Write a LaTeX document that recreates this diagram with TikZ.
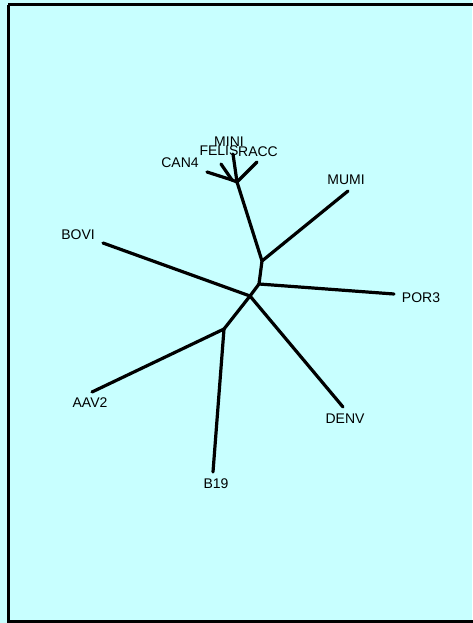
\documentclass[tikz,border=0pt]{standalone}
\usepackage{fontspec}
\setmainfont{Liberation Sans}
\definecolor{paper}{RGB}{200,255,255}
\tikzset{
  branch/.style={line width=3.2pt, line cap=round, line join=round},
  taxon/.style={font=\fontsize{14}{14}\selectfont, inner sep=0pt, text=black},
  frame/.style={line width=3pt}
}
\begin{document}
\begin{tikzpicture}[x=1pt,y=-1pt]
  % canvas and border
  \fill[paper] (0,0) rectangle (472,623);
  \useasboundingbox (0,0) rectangle (472,623);
  \draw[frame] (8,5) -- (476,5) (8,5) -- (8,621) -- (476,621);

  % internal nodes of the unrooted tree
  \coordinate (n1) at (250,296);
  \coordinate (n2) at (259,284);
  \coordinate (n3) at (224,329);
  \coordinate (n4) at (262,261);
  \coordinate (n5) at (237,182);
  \coordinate (n6) at (232,180);

  % branch tips
  \coordinate (tBOVI) at (103,243);
  \coordinate (tAAV2) at (92,392);
  \coordinate (tB19) at (213,472);
  \coordinate (tDENV) at (343,407);
  \coordinate (tPOR3) at (394,294);
  \coordinate (tMUMI) at (348,191);
  \coordinate (tCAN4) at (207,172);
  \coordinate (tFELIS) at (221,164);
  \coordinate (tMINI) at (233,154);
  \coordinate (tRACC) at (257,162);

  % branches
  \draw[branch] (tBOVI) -- (n1);
  \draw[branch] (n1) -- (tDENV);
  \draw[branch] (n1) -- (n3);
  \draw[branch] (tAAV2) -- (n3);
  \draw[branch] (n3) -- (tB19);
  \draw[branch] (n1) -- (n2);
  \draw[branch] (n2) -- (tPOR3);
  \draw[branch] (n2) -- (n4);
  \draw[branch] (n4) -- (tMUMI);
  \draw[branch] (n4) -- (n5);
  \draw[branch] (n5) -- (n6);
  \draw[branch] (n6) -- (tCAN4);
  \draw[branch] (n6) -- (tFELIS);
  \draw[branch] (n5) -- (tMINI);
  \draw[branch] (n5) -- (tRACC);

  % taxon labels
  \node[taxon] (lBOVI) at (78,235) {BOVI};
  \node[taxon] (lAAV2) at (90,403) {AAV2};
  \node[taxon] (lB19) at (216,484) {B19};
  \node[taxon] (lDENV) at (345,419) {DENV};
  \node[taxon] (lPOR3) at (421,298) {POR3};
  \node[taxon] (lMUMI) at (346,180) {MUMI};
  \node[taxon] (lCAN4) at (180,163) {CAN4};
  \node[taxon] (lMINI) at (229,142) {MINI};
  \node[taxon] (lFELIS) at (219,151) {FELIS};
  \node[taxon] (lRACC) at (258,152) {RACC};
\end{tikzpicture}
\end{document}
